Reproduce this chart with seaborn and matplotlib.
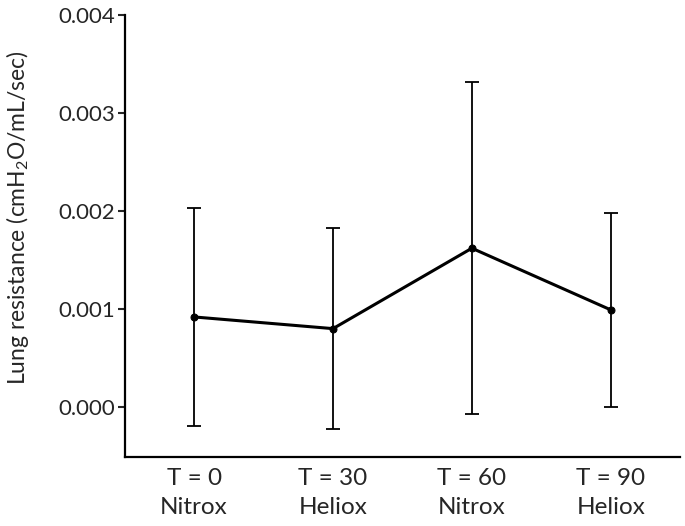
import matplotlib
matplotlib.use("Agg")
import matplotlib.pyplot as plt
import seaborn as sns
import pandas as pd

# Values (mean and SD of lung resistance)
timepoints = ["T = 0\nNitrox", "T = 30\nHeliox", "T = 60\nNitrox", "T = 90\nHeliox"]
mean_res = [0.000922, 0.000803, 0.001622, 0.000994]
sd_res = [0.001106, 0.001027, 0.001692, 0.000990]

df = pd.DataFrame({"time": timepoints, "res": mean_res, "sd": sd_res})
df["pos"] = range(len(df))

sns.set_style("white")
plt.rcParams['font.family'] = ['Lato', 'DejaVu Sans']
plt.rcParams['mathtext.default'] = 'regular'

fig = plt.figure(figsize=(6.85, 5.26), dpi=100)
ax = fig.add_axes([0.182, 0.132, 0.811, 0.84])

ax.errorbar(df["pos"], df["res"], yerr=df["sd"], fmt="none", ecolor="black",
            elinewidth=1.3, capsize=5, capthick=1.3, zorder=2)
sns.lineplot(data=df, x="pos", y="res", color="black", linewidth=2.2,
             marker="o", markersize=5, markeredgecolor="black", ax=ax, zorder=3)

ax.set_xlim(-0.5, 3.5)
ax.set_ylim(-0.0005, 0.004)
ax.set_xticks(df["pos"])
ax.set_xticklabels(timepoints, linespacing=1.5)
ax.set_yticks([0, 0.001, 0.002, 0.003, 0.004])
ax.set_yticklabels(["0.000", "0.001", "0.002", "0.003", "0.004"])
ax.set_xlabel("")
ax.set_ylabel("Lung resistance (cmH$_2$O/mL/sec)", fontsize=16.5)
ax.yaxis.set_label_coords(-0.168, 0.54)

ax.tick_params(axis="y", length=5, width=1.5, direction="out", labelsize=16, pad=2, left=True)
ax.tick_params(axis="x", length=0, labelsize=17.5, pad=8)
for s in ["top", "right"]:
    ax.spines[s].set_visible(False)
for s in ["left", "bottom"]:
    ax.spines[s].set_linewidth(1.6)
    ax.spines[s].set_color("black")

fig.savefig("out.png", dpi=100)
